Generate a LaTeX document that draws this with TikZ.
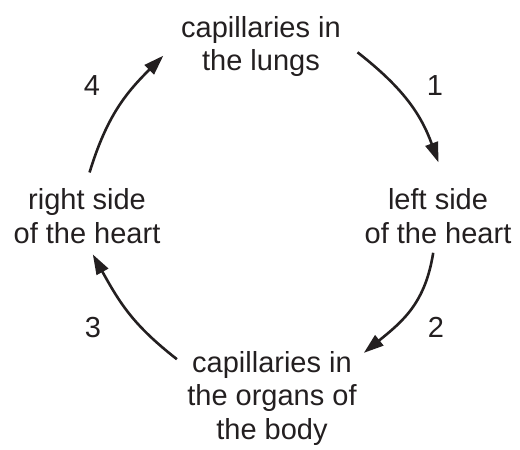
\documentclass[tikz,border=0pt]{standalone}
\usepackage{fontspec}
\setmainfont{Liberation Sans}
\usetikzlibrary{arrows.meta}
\definecolor{ink}{RGB}{35,31,32}
\begin{document}
\begin{tikzpicture}[x=1pt,y=1pt,
  lbl/.style={align=center,inner sep=0pt,text=ink,font=\fontsize{29}{33.5}\selectfont},
  num/.style={anchor=base,inner sep=0pt,text=ink,font=\fontsize{29}{33.5}\selectfont},
  a/.style={-{Triangle[length=20pt,width=13pt]},line width=2.6pt,color=ink,looseness=1.1}]
  \useasboundingbox (0,0) rectangle (520,450);
  \node[lbl] (lungs) at (261,403.6) {capillaries in\\the lungs};
  \node[lbl] (lside) at (438,233.7) {left side\\of the heart};
  \node[lbl] (organs) at (272,51.9) {capillaries in\\the organs of\\the body};
  \node[lbl] (rside) at (87,233.7) {right side\\of the heart};
  \node[num] (n1) at (435,354) {1};
  \node[num] (n2) at (436,112) {2};
  \node[num] (n3) at (93,112) {3};
  \node[num] (n4) at (92,354) {4};
  \draw[a,shorten <=21pt,shorten >=28pt] (lungs.5) to[out=-38,in=110] (lside.70);
  \draw[a,shorten <=9pt,shorten >=9pt] (lside.263) to[out=-99,in=39] (organs.25);
  \draw[a,shorten <=13pt,shorten >=12pt] (organs.160) to[out=142,in=-61] (rside.south);
  \draw[a,shorten <=17pt,shorten >=25pt] (rside.95) to[out=73,in=-135] (lungs.174);
\end{tikzpicture}
\end{document}
